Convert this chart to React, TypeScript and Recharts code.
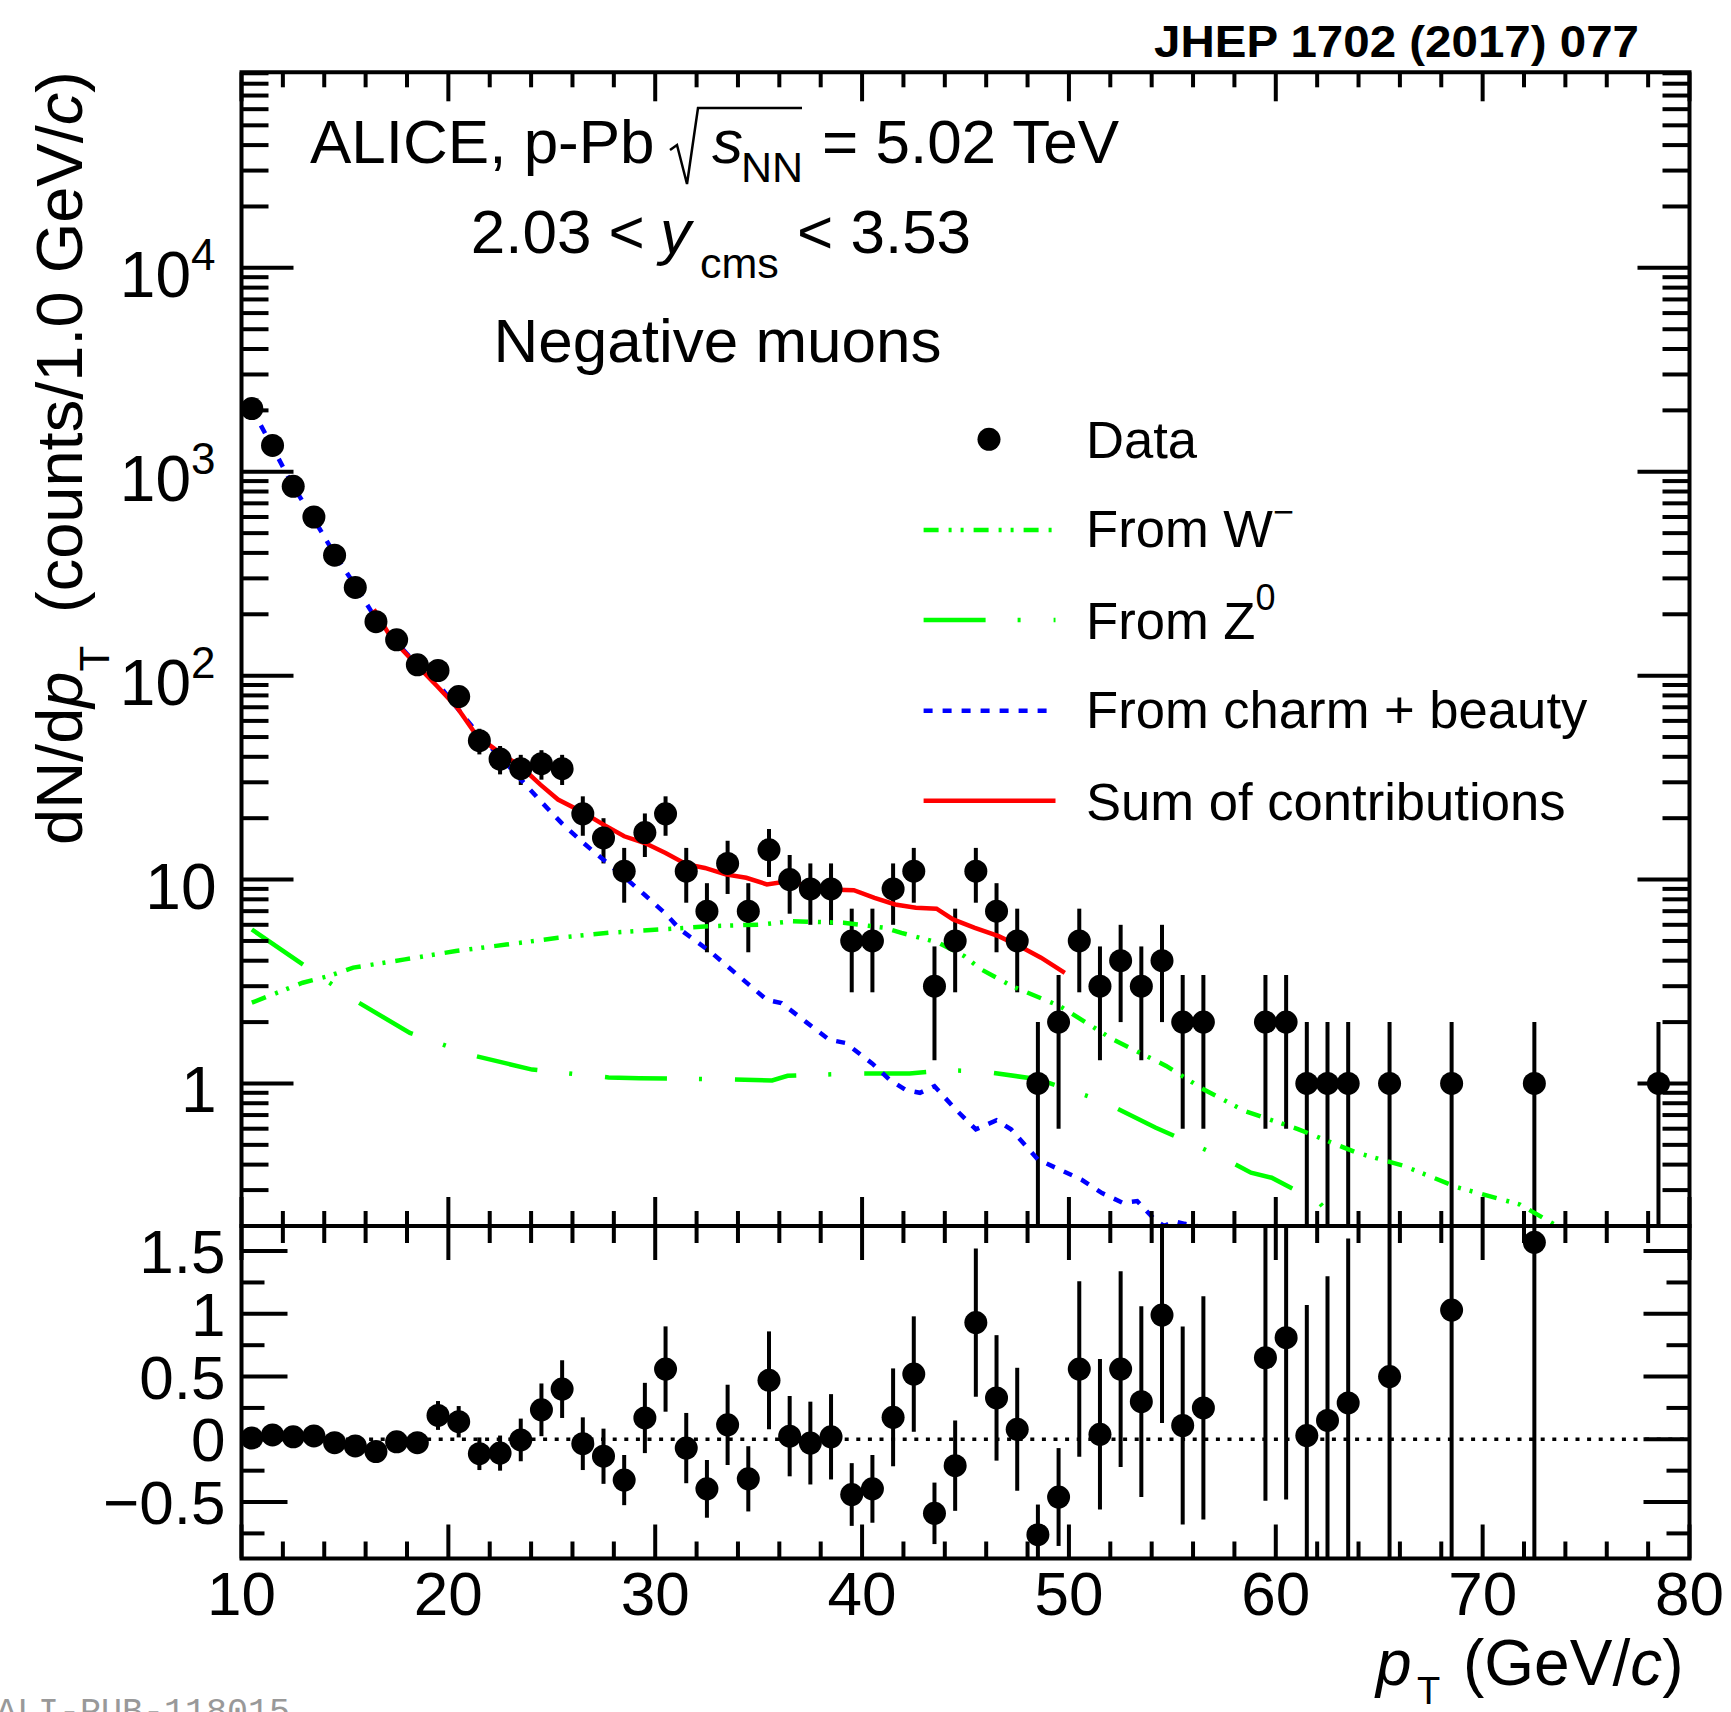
import React from 'react';
import { ComposedChart, Scatter, Line, XAxis, YAxis, ErrorBar, ReferenceArea, ReferenceLine } from 'recharts';

const FONT = '"Liberation Sans", Arial, Helvetica, sans-serif';

// ---------------- data ----------------
const binCenters = [
  10.5, 11.5, 12.5, 13.5, 14.5, 15.5, 16.5, 17.5, 18.5, 19.5,
  20.5, 21.5, 22.5, 23.5, 24.5, 25.5, 26.5, 27.5, 28.5, 29.5,
  30.5, 31.5, 32.5, 33.5, 34.5, 35.5, 36.5, 37.5, 38.5, 39.5,
  40.5, 41.5, 42.5, 43.5, 44.5, 45.5, 46.5, 47.5, 48.5, 49.5,
  50.5, 51.5, 52.5, 53.5, 54.5, 55.5, 56.5, 59.5, 60.5, 61.5,
  62.5, 63.5, 65.5, 68.5, 72.5, 78.5,
];
const counts = [
  2040, 1346, 848, 600, 390, 271, 184, 150, 113, 106,
  79, 48, 39, 35, 37, 35, 21, 16, 11, 17,
  21, 11, 7, 12, 7, 14, 10, 9, 9, 5,
  5, 9, 11, 3, 5, 11, 7, 5, 1, 2,
  5, 3, 4, 3, 4, 2, 2, 2, 2, 1,
  1, 1, 1, 1, 1, 1,
];
const countErrors = [
  45, 37, 29, 24.5, 19.7, 16.5, 13.6, 12.2, 10.6, 10.3,
  8.9, 6.9, 6.2, 5.9, 6.1, 5.9, 4.6, 4, 3.3, 4.1,
  4.6, 3.3, 2.6, 3.5, 2.6, 3.7, 3.2, 3, 3, 2.2,
  2.2, 3, 3.3, 1.7, 2.2, 3.3, 2.6, 2.2, 1, 1.4,
  2.2, 1.7, 2, 1.7, 2, 1.4, 1.4, 1.4, 1.4, 1,
  1, 1, 1, 1, 1, 1,
];
// (data - sum) / sum, for bins 10.5 ... 72.5
const ratioValues = [
  0.01, 0.035, 0.02, 0.027, -0.027, -0.053, -0.098, -0.02, -0.027, 0.19,
  0.14, -0.115, -0.11, -0.005, 0.235, 0.40, -0.035, -0.135, -0.325, 0.17,
  0.56, -0.07, -0.395, 0.115, -0.315, 0.47, 0.025, -0.03, 0.02, -0.44,
  -0.395, 0.175, 0.52, -0.59, -0.21, 0.93, 0.33, 0.08, -0.76, -0.46,
  0.56, 0.04, 0.56, 0.30, 0.99, 0.11, 0.25, 0.65, 0.81, 0.03,
  0.15, 0.29, 0.50, 1.03, 1.57,
];
const ratioErrors = [
  0.01, 0.012, 0.015, 0.018, 0.022, 0.027, 0.032, 0.037, 0.045, 0.115,
  0.125, 0.13, 0.14, 0.17, 0.21, 0.23, 0.21, 0.22, 0.20, 0.28,
  0.34, 0.28, 0.23, 0.32, 0.26, 0.39, 0.32, 0.33, 0.34, 0.25,
  0.27, 0.39, 0.46, 0.245, 0.36, 0.59, 0.50, 0.49, 0.24, 0.39,
  0.70, 0.60, 0.78, 0.76, 0.86, 0.79, 0.89, 1.14, 1.29, 1.04,
  1.15, 1.31, 1.5, 2.0, 2.6,
];

const charmPt = [
  10.5, 11.5, 12.5, 13.5, 14.5, 15.5, 16.5, 17.5, 18.5, 19.5,
  20.5, 21.5, 22.5, 23.5, 24.5, 25.5, 26.5, 27.5, 28.5, 29.5,
  30.5, 31.2, 32.7, 33.5, 34.5, 35.4, 36.1, 37.3, 38.4, 39.2,
  40.5, 41.3, 42.1, 42.8, 43.5, 44.5, 45.5, 46.5, 47.2, 48.5,
  49.5, 50.6, 51.6, 52.6, 53.3, 54.2, 54.6, 55.1, 55.6, 56.2, 56.6,
];
const charmYield = [
  2040, 1320, 848, 585, 395, 276, 190, 145, 113, 91,
  68, 51, 40, 31, 24, 18.8, 15.2, 12.5, 10.3, 8.4,
  6.8, 5.7, 4.4, 3.75, 3.07, 2.57, 2.48, 2.0, 1.64, 1.58,
  1.25, 1.05, 0.93, 0.9, 0.97, 0.75, 0.596, 0.66, 0.596, 0.424,
  0.38, 0.338, 0.29, 0.26, 0.265, 0.212, 0.2, 0.211, 0.205, 0.2, 0.185,
];
const wPt = [
  10.5, 12.96, 14.2, 15.4, 17.9, 20.36, 22.8, 25.3, 27.75, 30.2,
  32.7, 35.15, 36.6, 39.1, 41.1, 41.9, 43.7, 44.95, 45.75, 47.25,
  49.55, 52.1, 54.7, 56.5, 58.5, 61.1, 63.9, 66.2, 68.8, 71.8, 73.6, 74.2,
];
const wYield = [
  2.49, 3.12, 3.36, 3.7, 4.06, 4.46, 4.8, 5.18, 5.48, 5.69,
  5.91, 6.02, 6.25, 6.14, 5.8, 5.48, 4.9, 4.21, 3.63, 3.0,
  2.4, 1.65, 1.22, 0.936, 0.733, 0.596, 0.458, 0.394, 0.309, 0.255, 0.2, 0.18,
];
const zPt = [
  10.5, 12.96, 15.67, 18.14, 21.35, 24.05, 27.75, 29.24, 33.43, 35.65,
  36.4, 39.8, 42.3, 44.1, 45.7, 48.5, 51.6, 54.2, 57.3, 58.8,
  59.8, 62.1, 63.3,
];
const zYield = [
  5.69, 3.84, 2.49, 1.77, 1.36, 1.17, 1.07, 1.06, 1.05, 1.035,
  1.09, 1.12, 1.12, 1.16, 1.15, 1.05, 0.82, 0.607, 0.44, 0.365,
  0.345, 0.261, 0.19,
];
const sumPt = [
  16.4, 17.24, 18.35, 19.46, 20.43, 21.39, 22.5, 23.48, 24.45, 25.3,
  26.5, 27.5, 28.5, 29.5, 30.5, 31.5, 32.4, 33.4, 34.4, 35.4,
  36.4, 37.4, 38.4, 39.6, 40.6, 41.6, 42.6, 43.6, 44.4, 45.45,
  46.6, 47.6, 48.65, 49.8,
];
const sumYield = [
  211, 153, 116, 88.7, 69.7, 50.5, 41.8, 36, 29.2, 24.7,
  21.4, 18.6, 16.3, 15.1, 13.5, 11.9, 11.4, 10.6, 10.2, 9.47,
  9.8, 9.3, 8.93, 8.87, 8.14, 7.55, 7.27, 7.2, 6.38, 5.8,
  5.28, 4.72, 4.14, 3.49,
];

const xTickValues = [10, 12, 14, 16, 18, 20, 22, 24, 26, 28, 30, 32, 34, 36, 38, 40, 42, 44, 46, 48, 50, 52, 54, 56, 58, 60, 62, 64, 66, 68, 70, 72, 74, 76, 78, 80];
const ratioTickValues = [-0.75, -0.5, -0.25, 0, 0.25, 0.5, 0.75, 1, 1.25, 1.5];

// ---------------- axes / layout ----------------
const X_DOMAIN: [number, number] = [10, 80];
const Y_MIN = 0.2;
const Y_MAX = 91000;
const R_MIN = -0.95;
const R_MAX = 1.7;

const PLOT_LEFT = 241.5;
const PLOT_RIGHT = 1689.5;
const PLOT_W = PLOT_RIGHT - PLOT_LEFT;
const UP_TOP = 72.3;
const SPLIT = 1226;
const LO_BOTTOM = 1558.5;
const UP_H = SPLIT - UP_TOP;
const LO_H = LO_BOTTOM - SPLIT;
const X_AXIS_H = 40;
const Y_AXIS_W = 80;

const logTicks: number[] = [];
for (let d = -1; d <= 4; d++) {
  for (let m = 1; m <= 9; m++) {
    const v = Number((m * Math.pow(10, d)).toPrecision(6));
    if (v >= Y_MIN && v < Y_MAX) logTicks.push(v);
  }
}

const upperPoints = binCenters.map((x, i) => ({
  x,
  y: counts[i],
  err: [Math.min(countErrors[i], counts[i] - Y_MIN), countErrors[i]],
}));
const lowerPoints = ratioValues.map((r, i) => ({
  x: binCenters[i],
  y: r,
  err: [Math.min(ratioErrors[i], r - R_MIN), Math.min(ratioErrors[i], R_MAX - r)],
}));
const toSeries = (xs: number[], ys: number[]) => xs.map((x, i) => ({ x, y: ys[i] }));
const charmData = toSeries(charmPt, charmYield);
const wData = toSeries(wPt, wYield);
const zData = toSeries(zPt, zYield);
const sumData = toSeries(sumPt, sumYield);

const GREEN = '#00ff00';
const BLUE = '#0000ff';
const RED = '#ff0000';
const LW = 4.5;
const DASH_W = '15 10 3 9 3 10';
const DASH_Z = '62 32 3 33';
const DASH_C = '9 10';
const TW = 4;

const isMult = (v: number, step: number) => Math.abs(v / step - Math.round(v / step)) < 1e-6;

// ---------------- custom ticks ----------------
const UpperXTick = (p: any) => {
  const { x, y, payload } = p;
  const len = isMult(payload.value, 10) ? 29 : 15;
  return (
    <g>
      <line x1={x} y1={y} x2={x} y2={y - len} stroke="#000" strokeWidth={TW} />
      <line x1={x} y1={y - UP_H} x2={x} y2={y - UP_H + len} stroke="#000" strokeWidth={TW} />
    </g>
  );
};

const LowerXTick = (p: any) => {
  const { x, y, payload } = p;
  const major = isMult(payload.value, 10);
  const len = major ? 34 : 17;
  return (
    <g>
      <line x1={x} y1={y} x2={x} y2={y - len} stroke="#000" strokeWidth={TW} />
      <line x1={x} y1={y - LO_H} x2={x} y2={y - LO_H + len} stroke="#000" strokeWidth={TW} />
      {major && (
        <text x={x} y={y + 56.5} textAnchor="middle" fontSize={62} fontFamily={FONT} fill="#000">
          {payload.value}
        </text>
      )}
    </g>
  );
};

const UpperYTick = (p: any) => {
  const { x, y, payload } = p;
  const lg = Math.log10(payload.value);
  const major = Math.abs(lg - Math.round(lg)) < 1e-6;
  const len = major ? 52 : 27;
  let label: any = null;
  if (major) {
    const e = Math.round(lg);
    label =
      e <= 1 ? (
        <text x={x - 25} y={y + 29} textAnchor="end" fontSize={64} fontFamily={FONT} fill="#000">
          {e === 0 ? '1' : '10'}
        </text>
      ) : (
        <text x={x - 26} y={y + 29} textAnchor="end" fontSize={64} fontFamily={FONT} fill="#000">
          10
          <tspan fontSize={44} dy={-27}>
            {e}
          </tspan>
        </text>
      );
  }
  return (
    <g>
      <line x1={x} y1={y} x2={x + len} y2={y} stroke="#000" strokeWidth={TW} />
      <line x1={x + PLOT_W} y1={y} x2={x + PLOT_W - len} y2={y} stroke="#000" strokeWidth={TW} />
      {label}
    </g>
  );
};

const LowerYTick = (p: any) => {
  const { x, y, payload } = p;
  const v = payload.value;
  const major = isMult(v, 0.5);
  const len = major ? 46 : 23;
  const txt = v === 0 ? '0' : v < 0 ? '\u2212' + String(Math.abs(v)) : String(v);
  return (
    <g>
      <line x1={x} y1={y} x2={x + len} y2={y} stroke="#000" strokeWidth={TW} />
      <line x1={x + PLOT_W} y1={y} x2={x + PLOT_W - len} y2={y} stroke="#000" strokeWidth={TW} />
      {major && (
        <text x={x - 16} y={y + 22} textAnchor="end" fontSize={62} fontFamily={FONT} fill="#000">
          {txt}
        </text>
      )}
    </g>
  );
};

const Dot = (p: any) => {
  if (p.cx == null || p.cy == null) return null;
  return <circle cx={p.cx} cy={p.cy} r={11.5} fill="#000" />;
};

// ---------------- overlay text ----------------
const Overlay = () => (
  <svg
    width={1731}
    height={1712}
    style={{ position: 'absolute', left: 0, top: 0, pointerEvents: 'none' }}
    fontFamily={FONT}
  >
    <text x={1154} y={56.7} fontSize={44} fontWeight="bold" textLength={485} lengthAdjust="spacingAndGlyphs" fill="#000">
      JHEP 1702 (2017) 077
    </text>

    {/* Title block */}
    <text x={310} y={162.7} fontSize={62} fill="#000">ALICE, p-Pb</text>
    <polyline points="670,150 677,145 687,184 698,108 802,108" fill="none" stroke="#000" strokeWidth={2.5} />
    <text x={712} y={162.7} fontSize={62} fontStyle="italic" fill="#000">s</text>
    <text x={741} y={181.7} fontSize={43} fill="#000">NN</text>
    <text x={822} y={162.7} fontSize={62} fill="#000">= 5.02 TeV</text>

    <text x={470.7} y={253.3} fontSize={62} fill="#000">2.03 &lt;</text>
    <text x={660} y={253.3} fontSize={62} fontStyle="italic" fill="#000">y</text>
    <text x={700} y={278} fontSize={43} fill="#000">cms</text>
    <text x={797} y={253.3} fontSize={62} fill="#000">&lt; 3.53</text>

    <text x={493.5} y={361.7} fontSize={62} fill="#000">Negative muons</text>

    {/* Legend */}
    <circle cx={989} cy={439.3} r={11.5} fill="#000" />
    <text x={1086} y={458.3} fontSize={52.6} fill="#000">Data</text>

    <line x1={923.6} y1={530} x2={1055.5} y2={530} stroke={GREEN} strokeWidth={LW} strokeDasharray={DASH_W} />
    <text x={1086} y={546.7} fontSize={52.6} fill="#000">
      From W<tspan fontSize={36} dy={-23}>{'\u2212'}</tspan>
    </text>

    <line x1={923.6} y1={620} x2={1055.5} y2={620} stroke={GREEN} strokeWidth={LW} strokeDasharray={DASH_Z} />
    <text x={1086} y={639.3} fontSize={52.6} fill="#000">
      From Z<tspan fontSize={36} dy={-29}>0</tspan>
    </text>

    <line x1={923.6} y1={710.7} x2={1055.5} y2={710.7} stroke={BLUE} strokeWidth={LW} strokeDasharray={DASH_C} />
    <text x={1086} y={728.3} fontSize={52.6} fill="#000">From charm + beauty</text>

    <line x1={923.6} y1={800.7} x2={1055.5} y2={800.7} stroke={RED} strokeWidth={LW} />
    <text x={1086} y={820} fontSize={52.6} fill="#000">Sum of contributions</text>

    {/* Y title */}
    <text transform="translate(82,845) rotate(-90)" fontSize={65} fill="#000">
      dN/d<tspan fontStyle="italic">p</tspan>
      <tspan fontSize={42} dy={27}>T</tspan>
      <tspan x={232} dy={-27}>(counts/1.0 GeV/</tspan>
      <tspan fontStyle="italic">c</tspan>
      <tspan>)</tspan>
    </text>

    {/* X title */}
    <text x={1376} y={1685} fontSize={64} fontStyle="italic" fill="#000">p</text>
    <text x={1417} y={1704} fontSize={38} fill="#000">T</text>
    <text x={1463} y={1685} fontSize={64} fill="#000">
      (GeV/<tspan fontStyle="italic">c</tspan>)
    </text>

    <text x={-4} y={1722} fontSize={35} fontFamily='"Liberation Mono", "DejaVu Sans Mono", monospace' fill="#999">
      ALI-PUB-118015
    </text>
  </svg>
);

export default function App() {
  return (
    <div style={{ position: 'absolute', left: 0, top: 0, width: 1731, height: 1712, background: '#fff', fontFamily: FONT }}>
      <div style={{ position: 'absolute', left: 0, top: 0 }}>
        <ComposedChart
          width={1731}
          height={1300}
          margin={{ top: UP_TOP, right: 1731 - PLOT_RIGHT, bottom: 1300 - SPLIT - X_AXIS_H, left: PLOT_LEFT - Y_AXIS_W }}
        >
          <XAxis
            dataKey="x"
            type="number"
            domain={X_DOMAIN}
            allowDataOverflow
            ticks={xTickValues}
            interval={0}
            height={X_AXIS_H}
            tickSize={0}
            tickMargin={0}
            axisLine={false}
            tickLine={false}
            tick={(p: any) => <UpperXTick {...p} />}
          />
          <YAxis
            dataKey="y"
            type="number"
            scale="log"
            domain={[Y_MIN, Y_MAX]}
            allowDataOverflow
            ticks={logTicks}
            interval={0}
            width={Y_AXIS_W}
            tickSize={0}
            tickMargin={0}
            axisLine={false}
            tickLine={false}
            tick={(p: any) => <UpperYTick {...p} />}
          />
          <Scatter data={upperPoints} dataKey="y" shape={Dot} isAnimationActive={false}>
            <ErrorBar dataKey="err" direction="y" width={0} stroke="#000" strokeWidth={4} isAnimationActive={false} />
          </Scatter>
          <Line data={wData} dataKey="y" type="linear" stroke={GREEN} strokeWidth={LW} strokeDasharray={DASH_W} dot={false} activeDot={false} isAnimationActive={false} />
          <Line data={zData} dataKey="y" type="linear" stroke={GREEN} strokeWidth={LW} strokeDasharray={DASH_Z} dot={false} activeDot={false} isAnimationActive={false} />
          <Line data={charmData} dataKey="y" type="linear" stroke={BLUE} strokeWidth={LW} strokeDasharray={DASH_C} dot={false} activeDot={false} isAnimationActive={false} />
          <Line data={sumData} dataKey="y" type="linear" stroke={RED} strokeWidth={LW} dot={false} activeDot={false} isAnimationActive={false} />
          <ReferenceArea x1={10} x2={80} y1={Y_MIN} y2={Y_MAX} fill="none" stroke="#000" strokeWidth={4} ifOverflow="visible" />
        </ComposedChart>
      </div>
      <div style={{ position: 'absolute', left: 0, top: 1150 }}>
        <ComposedChart
          width={1731}
          height={562}
          margin={{ top: SPLIT - 1150, right: 1731 - PLOT_RIGHT, bottom: 1712 - LO_BOTTOM - X_AXIS_H, left: PLOT_LEFT - Y_AXIS_W }}
        >
          <XAxis
            dataKey="x"
            type="number"
            domain={X_DOMAIN}
            allowDataOverflow
            ticks={xTickValues}
            interval={0}
            height={X_AXIS_H}
            tickSize={0}
            tickMargin={0}
            axisLine={false}
            tickLine={false}
            tick={(p: any) => <LowerXTick {...p} />}
          />
          <YAxis
            dataKey="y"
            type="number"
            domain={[R_MIN, R_MAX]}
            allowDataOverflow
            ticks={ratioTickValues}
            interval={0}
            width={Y_AXIS_W}
            tickSize={0}
            tickMargin={0}
            axisLine={false}
            tickLine={false}
            tick={(p: any) => <LowerYTick {...p} />}
          />
          <ReferenceLine y={0} stroke="#000" strokeWidth={3.5} strokeDasharray="4 7.6" ifOverflow="hidden" />
          <Scatter data={lowerPoints} dataKey="y" shape={Dot} isAnimationActive={false}>
            <ErrorBar dataKey="err" direction="y" width={0} stroke="#000" strokeWidth={4} isAnimationActive={false} />
          </Scatter>
          <ReferenceArea x1={10} x2={80} y1={R_MIN} y2={R_MAX} fill="none" stroke="#000" strokeWidth={4} ifOverflow="visible" />
        </ComposedChart>
      </div>
      <Overlay />
    </div>
  );
}
